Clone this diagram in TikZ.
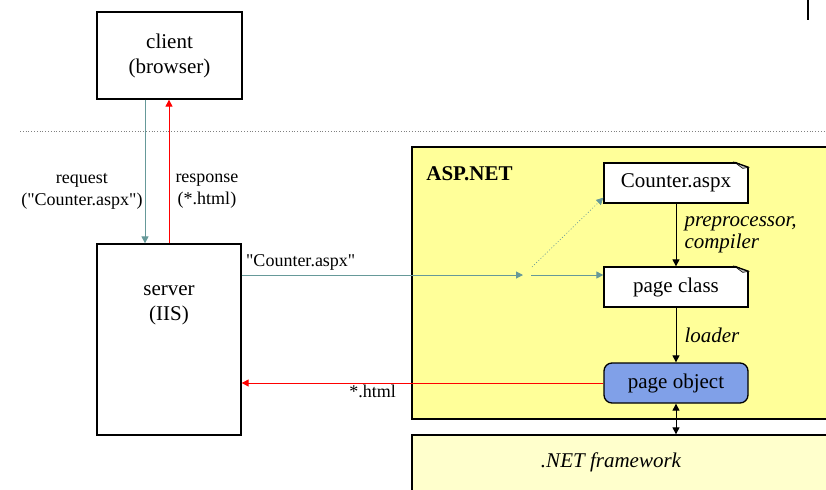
\documentclass[tikz,border=0pt]{standalone}
\usepackage{fontspec}
\setmainfont{Liberation Serif}[Ligatures=TeXReset]
\usetikzlibrary{arrows.meta,calc,positioning}

\definecolor{reqteal}{RGB}{102,153,153}
\definecolor{aspyellow}{RGB}{255,255,153}
\definecolor{netyellow}{RGB}{255,255,204}
\definecolor{objblue}{RGB}{128,160,232}

\tikzset{
  box/.style={draw, line width=0.65pt, inner sep=0pt, align=center, font=\fontsize{10.5}{12.5}\selectfont},
  docbox/.style={box, fill=white, minimum width=72pt, minimum height=20pt},
  txt/.style={align=center, font=\fontsize{10.5}{12.5}\selectfont},
  lbl/.style={align=center, inner sep=1pt, text=black, font=\fontsize{9}{11}\selectfont},
  steplbl/.style={align=left, inner sep=1pt, text=black, font=\fontsize{10.5}{11}\selectfont\itshape},
  reqline/.style={reqteal, line width=0.5pt},
  resline/.style={red, line width=0.5pt},
  flow/.style={line width=0.5pt}
}

% folded corner of a document box
\newcommand{\dogear}[1]{%
  \fill[aspyellow] ($(#1.north east)+(-14,-1)$) -- ($(#1.north east)+(1,-1)$) -- ($(#1.north east)+(1,6)$) -- cycle;
  \filldraw[fill=gray!45, line width=0.3pt] ($(#1.north east)+(-14,0)$) -- ($(#1.north east)+(0,5)$) -- ($(#1.north east)+(-6,6)$) -- cycle;
  \draw[line width=0.65pt] ($(#1.north east)+(-14,0)$) -- ($(#1.north east)+(0,5)$);
}

\begin{document}
\begin{tikzpicture}[x=0.5pt, y=-0.5pt, >={Triangle[length=3.5pt,width=3.5pt]}]
        \clip (0,0) rectangle (826,489);

        % separator and mark
        \draw[gray, densely dotted, line width=0.4pt] (20,131) -- (826,131);
        \draw[line width=0.8pt] (808,0) -- (808,20);

        % framework blocks
        \node[box, fill=aspyellow, minimum width=211.5pt, minimum height=136pt] (asp) at (623.5,283) {};
        \node[anchor=north west, inner sep=0pt, font=\fontsize{10.5}{12.5}\selectfont\bfseries] (asplbl) at (426,166) {ASP.NET};
        \node[box, fill=netyellow, minimum width=211.5pt, minimum height=45pt] (fw) at (623.5,480) {};
        \node[txt, font=\fontsize{10.5}{12.5}\selectfont\itshape] (fwlbl) at (611,462) {.NET framework};

        % client and server
        \node[box, minimum width=72.5pt, minimum height=43.5pt] (client) at (169.5,55.5) {client\\(browser)};
        \node[box, minimum width=72pt, minimum height=95.5pt] (server) at (169,339.5) {};
        \node[txt] (servertxt) at (169,305) {server\\(IIS)};

        % ASP.NET pipeline
        \node[docbox] (cnt) at (676,183) {Counter.aspx};
        \node[docbox] (cls) at (676,287) {page class};
        \node[box, fill=objblue, rounded corners=4pt, minimum width=72pt, minimum height=20pt] (obj) at (676,383) {page object};
        \dogear{cnt}
        \dogear{cls}

        \coordinate (split) at (527,275);

        \draw[reqline,->] ([xshift=-12.25pt]client.south) -- node[lbl, left, pos=0.64]{request\\("Counter.aspx")} ([xshift=-12.25pt]client.south |- server.north);
        \draw[resline,->] (server.north) -- node[lbl, right, pos=0.36, xshift=2pt]{response\\(*.html)} (server.north |- client.south);

        \draw[reqline,->] (server.east |- split) -- node[lbl, above right, pos=0, inner sep=2pt]{"Counter.aspx"} ([xshift=-2pt]split);
        \draw[reqline,->] ([xshift=2pt]split) -- (cls.west |- split);
        \draw[reqline, densely dotted, line width=0.3pt, ->] ($(split)+(5,-8)$) -- ([yshift=3pt]cnt.south west);

        \draw[flow,->] (cnt) -- node[steplbl, right, xshift=3pt]{preprocessor,\\compiler} (cls);
        \draw[flow,->] (cls) -- node[steplbl, right, xshift=3pt]{loader} (obj);
        \draw[flow,<->] (obj) -- (obj |- fw.north);

        \draw[resline,->] (obj.west) -- node[lbl, below left, pos=0.567]{*.html} (obj.west -| server.east);
    \end{tikzpicture}
\end{document}
